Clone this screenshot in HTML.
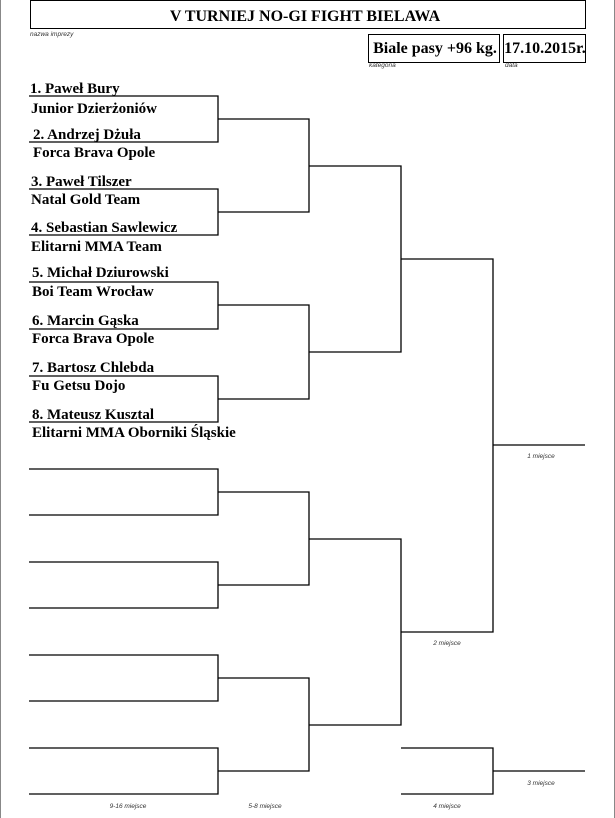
<!DOCTYPE html>
<html><head><meta charset="utf-8"><style>
html,body{margin:0;padding:0;background:#fff;}
svg{display:block;}
.n{font-family:"Liberation Serif",serif;font-weight:bold;font-size:15px;fill:#000;}
.s{font-family:"Liberation Sans",sans-serif;font-style:italic;font-size:6.5px;fill:#333;}
</style></head><body>
<svg width="615" height="818" viewBox="0 0 615 818" xmlns="http://www.w3.org/2000/svg">
<rect x="0" y="0" width="615" height="818" fill="#fff"/>
<line x1="0.5" y1="0" x2="0.5" y2="818" stroke="#888" stroke-width="1"/>
<line x1="614.5" y1="0" x2="614.5" y2="818" stroke="#888" stroke-width="1"/>
<rect x="30.5" y="0.5" width="555" height="28" fill="none" stroke="#000"/>
<text x="305" y="21" text-anchor="middle" class="n" style="font-size:16px">V TURNIEJ NO-GI FIGHT BIELAWA</text>
<text x="30" y="36" class="s">nazwa imprezy</text>
<rect x="368.5" y="34.5" width="131" height="28" fill="none" stroke="#000"/>
<text x="435" y="53" text-anchor="middle" class="n" style="font-size:16px">Biale pasy +96 kg.</text>
<rect x="503.5" y="34.5" width="82" height="28" fill="none" stroke="#000"/>
<text x="545" y="53" text-anchor="middle" class="n" style="font-size:16px">17.10.2015r.</text>
<text x="369" y="67" class="s">kategoria</text>
<text x="505" y="67" class="s">data</text>
<g stroke="#000" stroke-width="1.3" fill="none">
<path d="M29 96H218V142H29"/>
<path d="M29 189H218V235H29"/>
<path d="M29 282H218V329H29"/>
<path d="M29 376H218V422H29"/>
<path d="M218 119H309V212H218"/>
<path d="M218 305H309V399H218"/>
<path d="M309 166H401V352H309"/>
<path d="M29 469H218V515H29"/>
<path d="M29 562H218V608H29"/>
<path d="M29 655H218V701H29"/>
<path d="M29 748H218V794H29"/>
<path d="M218 492H309V585H218"/>
<path d="M218 678H309V771H218"/>
<path d="M309 539H401V725H309"/>
<path d="M401 259H493V632H401"/>
<path d="M493 445H585"/>
<path d="M401 748H493V794H401"/>
<path d="M493 771H585"/>
</g>
<text x="30" y="93" class="n">1. Paweł Bury</text>
<text x="31" y="113" class="n">Junior Dzierżoniów</text>
<text x="33" y="139" class="n">2. Andrzej Dżuła</text>
<text x="33" y="157" class="n">Forca Brava Opole</text>
<text x="31" y="186" class="n">3. Paweł Tilszer</text>
<text x="31" y="204" class="n">Natal Gold Team</text>
<text x="31" y="232" class="n">4. Sebastian Sawlewicz</text>
<text x="31" y="251" class="n">Elitarni MMA Team</text>
<text x="32" y="277" class="n">5. Michał Dziurowski</text>
<text x="32" y="296" class="n">Boi Team Wrocław</text>
<text x="32" y="325" class="n">6. Marcin Gąska</text>
<text x="32" y="343" class="n">Forca Brava Opole</text>
<text x="32" y="372" class="n">7. Bartosz Chlebda</text>
<text x="32" y="390" class="n">Fu Getsu Dojo</text>
<text x="32" y="419" class="n">8. Mateusz Kusztal</text>
<text x="32" y="437" class="n">Elitarni MMA Oborniki Śląskie</text>
<text x="541" y="458" text-anchor="middle" class="s">1 miejsce</text>
<text x="447" y="645" text-anchor="middle" class="s">2 miejsce</text>
<text x="541" y="785" text-anchor="middle" class="s">3 miejsce</text>
<text x="447" y="808" text-anchor="middle" class="s">4 miejsce</text>
<text x="128" y="808" text-anchor="middle" class="s">9-16 miejsce</text>
<text x="265" y="808" text-anchor="middle" class="s">5-8 miejsce</text>
</svg>
</body></html>
